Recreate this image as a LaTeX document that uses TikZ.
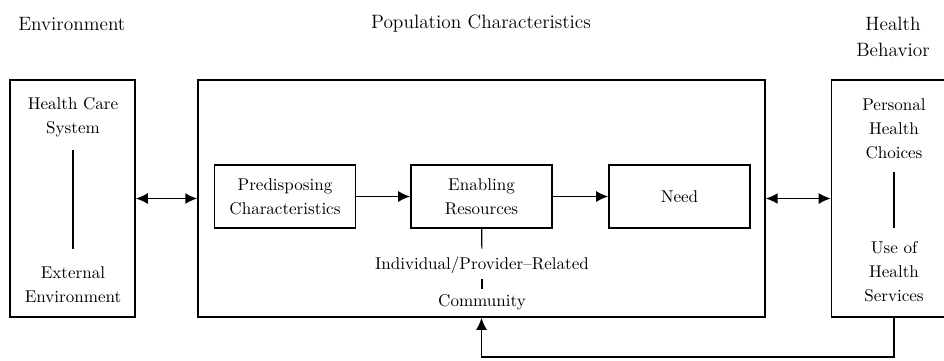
\documentclass[tikz,border=0pt]{standalone}
\usepackage{tikz}
\usetikzlibrary{arrows.meta, positioning}

\begin{document}
\begin{tikzpicture}[x=0.02cm, y=-0.02cm,
    frame/.style={draw, line width=0.9pt, minimum height=4.74cm},
    box/.style={draw, line width=0.9pt, minimum width=2.82cm, minimum height=1.26cm,
      align=center, inner sep=2pt, font=\fontsize{9.7}{13.6}\selectfont},
    lbl/.style={align=center, inner sep=0pt, font=\fontsize{9.7}{13.6}\selectfont},
    head/.style={align=center, inner sep=0pt, font=\fontsize{11}{14.5}\selectfont},
    link/.style={line width=0.9pt, -{Latex[length=2.4mm,width=2.2mm]}},
    both/.style={line width=0.9pt, {Latex[length=2.4mm,width=2.2mm]}-{Latex[length=2.4mm,width=2.2mm]}}]
  \useasboundingbox (0,0) rectangle (944,360);
  % Column headings
  \node[head, anchor=west] (henv) at (18,24) {Environment};
  \node[head] (hpop) at (481,24) {Population Characteristics};
  \node[head] (hbeh) at (893,37) {Health\\Behavior};
  % Outer frames
  \node[frame, minimum width=2.5cm] (env) at (72.5,198.5) {};
  \node[frame, minimum width=11.34cm] (pop) at (481.5,198.5) {};
  \node[frame, minimum width=2.5cm] (beh) at (894,198.5) {};
  % Environment column
  \node[lbl] (hcs) at (73,117) {Health Care\\System};
  \node[lbl] (ext) at (73,285) {External\\Environment};
  \draw[line width=0.7pt, shorten <=7.3pt, shorten >=10.3pt] (hcs) -- (ext);
  % Population characteristics
  \node[box] (pre) at (285,196.5) {Predisposing\\Characteristics};
  \node[box] (ena) at (481.5,196.5) {Enabling\\Resources};
  \node[box] (need) at (679.5,196.5) {Need};
  \draw[link] (pre) -- (ena);
  \draw[link] (ena) -- (need);
  \node[lbl] (ind) at (482,265) {Individual/Provider--Related};
  \node[lbl] (com) at (482,302) {Community};
  \draw[line width=0.7pt, shorten >=4.3pt] (ena) -- (ind);
  \draw[line width=0.7pt, shorten <=2.9pt, shorten >=2.7pt] (ind) -- (com);
  % Health behavior column
  \node[lbl] (phc) at (894,129) {Personal\\Health\\Choices};
  \node[lbl] (use) at (894,272) {Use of\\Health\\Services};
  \draw[line width=0.7pt, shorten <=7.3pt, shorten >=8pt] (phc) -- (use);
  % Links between columns
  \draw[both] (env) -- (pop);
  \draw[both] (pop) -- (beh);
  % Feedback
  \draw[link] (beh.south) -- ++(0,39) -| (pop.south);
\end{tikzpicture}
\end{document}
